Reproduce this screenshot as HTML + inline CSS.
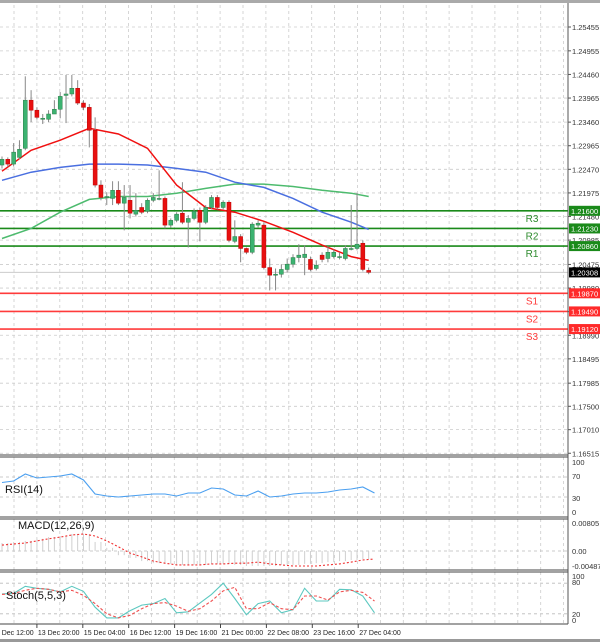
<!DOCTYPE html>
<html><head><meta charset="utf-8">
<style>
html,body{margin:0;padding:0;background:#fff;}
svg{display:block;font-family:"Liberation Sans",sans-serif;}
</style></head>
<body>
<svg id="chart" width="600" height="642" viewBox="0 0 600 642" xmlns="http://www.w3.org/2000/svg">
<rect x="0" y="0" width="600" height="642" fill="#fff"/>
<rect x="0" y="0" width="600" height="3" fill="#aaa"/>
<g id="grid"></g>
<g id="levels"></g>
<g id="mas"></g>
<g id="candles"></g>
<g id="rsi"></g>
<g id="macd"></g>
<g id="stoch"></g>
<g id="axes"></g>
<rect x="0" y="639" width="600" height="3" fill="#999"/>
</svg>
<script>
// ---- data ----
const openP  = [1.2256,1.2268,1.2258,1.2272,1.2291,1.2392,1.2371,1.2354,1.2352,1.2363,1.2373,1.2402,1.2405,1.2417,1.2386,1.2377,1.2329,1.2214,1.2188,1.2186,1.2203,1.2176,1.2182,1.2153,1.2167,1.2159,1.2182,1.2186,1.2186,1.2130,1.2140,1.2155,1.2136,1.2144,1.2161,1.2136,1.2167,1.2188,1.2167,1.2178,1.2096,1.2106,1.2081,1.2073,1.2130,1.2130,1.2041,1.2027,1.2027,1.2037,1.2048,1.2062,1.2062,1.2058,1.2039,1.2067,1.2060,1.2064,1.2064,1.2060,1.2081,1.2081,1.2092,1.2035];
const closeP = [1.2268,1.2258,1.2283,1.2289,1.2392,1.2371,1.2356,1.2354,1.2363,1.2373,1.2400,1.2405,1.2417,1.2386,1.2377,1.2329,1.2214,1.2188,1.2190,1.2203,1.2176,1.2188,1.2155,1.2161,1.2157,1.2182,1.2188,1.2186,1.2130,1.2140,1.2153,1.2136,1.2144,1.2159,1.2136,1.2167,1.2188,1.2167,1.2178,1.2098,1.2106,1.2081,1.2073,1.2132,1.2134,1.2041,1.2025,1.2027,1.2037,1.2048,1.2062,1.2067,1.2069,1.2037,1.2046,1.2058,1.2073,1.2073,1.2064,1.2081,1.2081,1.2090,1.2037,1.2031];
const highP  = [1.2274,1.2272,1.2302,1.2308,1.2442,1.2413,1.2377,1.2363,1.2371,1.2392,1.2409,1.2445,1.2445,1.2434,1.2392,1.2384,1.2356,1.2224,1.2199,1.2222,1.2222,1.2214,1.2214,1.2197,1.2176,1.2186,1.2197,1.2245,1.2190,1.2144,1.2157,1.2220,1.2151,1.2165,1.2167,1.2172,1.2193,1.2193,1.2182,1.2182,1.2140,1.2111,1.2083,1.2136,1.2140,1.2136,1.2060,1.2039,1.2048,1.2060,1.2069,1.2090,1.2088,1.2064,1.2056,1.2073,1.2086,1.2079,1.2073,1.2088,1.2172,1.2197,1.2098,1.2041];
const lowP   = [1.2249,1.2253,1.2253,1.2268,1.2287,1.2346,1.2352,1.2342,1.2346,1.2363,1.2354,1.2344,1.2400,1.2382,1.2371,1.2293,1.2209,1.2182,1.2172,1.2172,1.2172,1.2119,1.2144,1.2148,1.2153,1.2155,1.2178,1.2182,1.2123,1.2125,1.2136,1.2132,1.2083,1.2140,1.2096,1.2132,1.2163,1.2163,1.2163,1.2094,1.2092,1.2052,1.2069,1.2069,1.2125,1.2037,1.1993,1.1993,1.2020,1.2031,1.2041,1.2052,1.2025,1.2033,1.2035,1.2052,1.2052,1.2060,1.2058,1.2056,1.2077,1.2077,1.2033,1.2027];
const maIdx   = [0,5,10,15,20,25,30,35,40,45,50,55,60,63];
const maRed   = [1.2243,1.2287,1.2308,1.2333,1.2321,1.2291,1.2214,1.2167,1.2157,1.2138,1.2115,1.2088,1.2064,1.2056];
const maBlue  = [1.2224,1.2241,1.2251,1.2258,1.2258,1.2256,1.2249,1.2241,1.2220,1.2209,1.2186,1.2157,1.2136,1.2121];
const maGreen = [1.2102,1.2123,1.2157,1.2184,1.2190,1.2190,1.2197,1.2207,1.2216,1.2216,1.2211,1.2203,1.2197,1.2190];
const priceTicks = ["1.25455","1.24955","1.24460","1.23965","1.23460","1.22965","1.22470","1.21975","1.21480","1.20985","1.20475","1.19980","1.19485","1.18990","1.18495","1.17985","1.17500","1.17010","1.16515"];
const levelNames = ["R3","R2","R1","S1","S2","S3"];
const levelValues = [1.2160,1.2123,1.2086,1.1987,1.1949,1.1912];
const levelLabels = ["1.21600","1.21230","1.20860","1.19870","1.19490","1.19120"];
const currentPrice = 1.20308;
const currentLabel = "1.20308";
// oscillators sampled every 2 candles (index 0..64)
const rsiValues = [59,62,76,68,70,72,76,64,36,32,30,32,34,36,36,32,38,38,48,46,34,32,42,30,32,36,38,38,40,44,46,50,38];
const macdHist  = [0.0023,0.0026,0.0029,0.0035,0.0040,0.0043,0.0049,0.0049,0.0026,0.0009,-0.0012,-0.0020,-0.0029,-0.0035,-0.0037,-0.0040,-0.0040,-0.0040,-0.0037,-0.0037,-0.0040,-0.0043,-0.0043,-0.0043,-0.0040,-0.0040,-0.0037,-0.0035,-0.0032,-0.0029,-0.0026,-0.0023,-0.0020];
const macdSignal= [0.0017,0.0020,0.0023,0.0029,0.0035,0.0040,0.0046,0.0049,0.0043,0.0029,0.0012,-0.0006,-0.0017,-0.0029,-0.0035,-0.0040,-0.0040,-0.0040,-0.0037,-0.0037,-0.0035,-0.0035,-0.0032,-0.0037,-0.0040,-0.0043,-0.0043,-0.0043,-0.0040,-0.0037,-0.0032,-0.0026,-0.0023];
const stochMain = [59,60,74,70,68,63,74,64,33,12,12,26,37,40,50,22,24,41,58,80,50,18,40,45,22,28,70,45,45,68,67,55,22];
const stochSig  = [58,60,66,70,68,63,66,56,40,20,12,17,30,40,42,35,25,30,45,65,72,30,30,42,30,28,55,55,47,63,66,62,45];
const timeLabels = ["12 Dec 12:00","13 Dec 20:00","15 Dec 04:00","16 Dec 12:00","19 Dec 16:00","21 Dec 00:00","22 Dec 08:00","23 Dec 16:00","27 Dec 04:00"];

// ---- axes ----
const NS="http://www.w3.org/2000/svg";
const PLOT_R=568;
function xOf(i){return 2+i*5.82;}
function yP(p){return 27+(1.25455-p)*4768;}
function yRsi(v){return 512-v*0.5;}
function yMacd(v){return 551-v*3478;}
function yStoch(v){return 624-v*0.51;}
function mk(tag,attrs,parent){const e=document.createElementNS(NS,tag);for(const k in attrs)e.setAttribute(k,attrs[k]);document.getElementById(parent).appendChild(e);return e;}

// grid
for(let k=0;k<26;k++){
  const gx=-9+k*22.9+23;
  if(gx>0&&gx<PLOT_R){
    for(const [a,b] of [[5,455],[457,517],[519,570],[572,624]]){
      const l=mk('line',{x1:gx,x2:gx,y1:a,y2:b,stroke:'#ccc','stroke-dasharray':'3,3','stroke-width':0.8},'grid');
      
      
    }
  }
}
priceTicks.forEach(t=>{
  const y=yP(parseFloat(t));
  const l=mk('line',{x1:0,x2:PLOT_R,y1:y,y2:y,stroke:'#ccc','stroke-dasharray':'3,3','stroke-width':0.8},'grid');
  
  
  const tk=mk('line',{x1:PLOT_R,x2:PLOT_R+3,y1:y,y2:y,stroke:'#555'},'axes');
  
  
  const tx=mk('text',{x:PLOT_R+4,y:y+3,'font-size':7.5,fill:'#333'},'axes');
  tx.textContent=t;
  
  
});
[[70],[30]].forEach(([v])=>{const l=mk('line',{x1:0,x2:PLOT_R,y1:yRsi(v),y2:yRsi(v),stroke:'#bbb','stroke-dasharray':'3,3','stroke-width':0.8},'grid');});
[[80],[20]].forEach(([v])=>{const l=mk('line',{x1:0,x2:PLOT_R,y1:yStoch(v),y2:yStoch(v),stroke:'#bbb','stroke-dasharray':'3,3','stroke-width':0.8},'grid');});
{const l=mk('line',{x1:0,x2:PLOT_R,y1:yMacd(0),y2:yMacd(0),stroke:'#bbb','stroke-dasharray':'3,3','stroke-width':0.8},'grid');}

// current price line
{const y=yP(currentPrice);const l=mk('line',{x1:0,x2:PLOT_R,y1:y,y2:y,stroke:'#ccc','stroke-width':1},'levels');}

// MAs
function maPath(arr,color,name){
  const d=arr.map((v,k)=>(k?'L':'M')+xOf(maIdx[k]).toFixed(1)+','+yP(v).toFixed(1)).join('');
  const p=mk('path',{d:d,fill:'none',stroke:color,'stroke-width':1.5},'mas');
  
  
}
maPath(maGreen,'#4dbb6e','ma-green');
maPath(maBlue,'#4a6fe0','ma-blue');
maPath(maRed,'#f01010','ma-red');

// candles
openP.forEach((o,i)=>{
  const c=closeP[i],x=xOf(i);
  const w=mk('line',{x1:x,x2:x,y1:yP(highP[i]),y2:yP(lowP[i]),stroke:'#888','stroke-width':1},'candles');
  
  
  const up=c>=o;
  const top=yP(Math.max(o,c)),bot=yP(Math.min(o,c));
  const b=mk('rect',{x:x-2,y:top,width:4,height:Math.max(1,bot-top),fill:up?'#3cb371':'#e81010',stroke:up?'#2e7d4a':'#b00',"stroke-width":0.5},'candles');
  
  
});

// levels
levelValues.forEach((v,k)=>{
  const res=k<3,col=res?'#1a8a1a':'#ff3b3b',y=yP(v);
  const l=mk('line',{x1:0,x2:PLOT_R,y1:y,y2:y,stroke:col,'stroke-width':1.6},'levels');
  
  
  const t=mk('text',{x:532,y:y+11,'font-size':10,fill:res?'#2e8b2e':'#ff3b3b','text-anchor':'middle'},'levels');
  t.textContent=levelNames[k];
  
  
});

// oscillator helpers
function oscX(k){return xOf(k*2);}
function line(arr,fy,color,name,dash,parent){
  const d=arr.map((v,k)=>(k?'L':'M')+oscX(k).toFixed(1)+','+fy(v).toFixed(1)).join('');
  const attrs={d:d,fill:'none',stroke:color,'stroke-width':1.1};
  if(dash)attrs['stroke-dasharray']=dash;
  const p=mk('path',attrs,parent);
  
  
}
line(rsiValues,yRsi,'#4a9ff0','rsi-line',null,'rsi');
macdHist.forEach((v,k)=>{
  for(const off of [0,5.82]){
    const x=oscX(k)+off;
    if(x>372) continue;
    const b=mk('line',{x1:x,x2:x,y1:yMacd(0),y2:yMacd(v),stroke:'#cfcfcf','stroke-width':1},'macd');
    
    
  }
});
line(macdSignal,yMacd,'#f03030','macd-signal-line','2,2','macd');
line(stochMain,yStoch,'#5cc8c0','stoch-main-line',null,'stoch');
line(stochSig,yStoch,'#f05050','stoch-signal-line','3,2','stoch');

// panel borders & axis line
[[455],[457],[517],[519],[570],[572],[624]].forEach(([y])=>{const l=mk('line',{x1:0,x2:PLOT_R,y1:y,y2:y,stroke:'#444','stroke-width':1},'axes');});
{const l=mk('line',{x1:PLOT_R,x2:PLOT_R,y1:3,y2:624,stroke:'#555','stroke-width':1},'axes');}

// oscillator axis labels
function axTxt(txt,y,name){const t=mk('text',{x:PLOT_R+4,y:y+3,'font-size':7.5,fill:'#333'},'axes');t.textContent=txt;}
axTxt('100',462,'rsi-tick');axTxt('70',476,'rsi-tick');axTxt('30',498,'rsi-tick');axTxt('0',512,'rsi-tick');
axTxt('0.00805',523,'macd-tick');axTxt('0.00',551,'macd-tick');axTxt('-0.004871',566,'macd-tick');
axTxt('100',576,'stoch-tick');axTxt('80',582,'stoch-tick');axTxt('20',614,'stoch-tick');axTxt('0',620,'stoch-tick');

// level boxes
levelValues.forEach((v,k)=>{
  const y=yP(v);
  const r=mk('rect',{x:569,y:y-5,width:31,height:10,fill:k<3?'#1a8a1a':'#ff2a2a'},'axes');
  
  
  const t=mk('text',{x:571,y:y+3,'font-size':7.5,fill:'#fff'},'axes');
  t.textContent=levelLabels[k];
  
  
});
{const y=yP(currentPrice);
 const r=mk('rect',{x:569,y:y-5,width:31,height:10,fill:'#000'},'axes');
 const t=mk('text',{x:571,y:y+3,'font-size':7.5,fill:'#fff'},'axes');t.textContent=currentLabel;}

// panel titles
[['RSI(14)',5,493,'rsi-title'],['MACD(12,26,9)',18,529,'macd-title'],['Stoch(5,5,3)',6,599,'stoch-title']].forEach(([s,x,y,n])=>{
  const t=mk('text',{x:x,y:y,'font-size':11,fill:'#111'},'axes');t.textContent=s;
});

// time axis
timeLabels.forEach((s,k)=>{
  const x=-9+k*45.9;
  const tk=mk('line',{x1:x,x2:x,y1:624,y2:628,stroke:'#444'},'axes');
  const t=mk('text',{x:x+1,y:635,'font-size':7,fill:'#222'},'axes');t.textContent=s;
});
</script>
</body></html>
